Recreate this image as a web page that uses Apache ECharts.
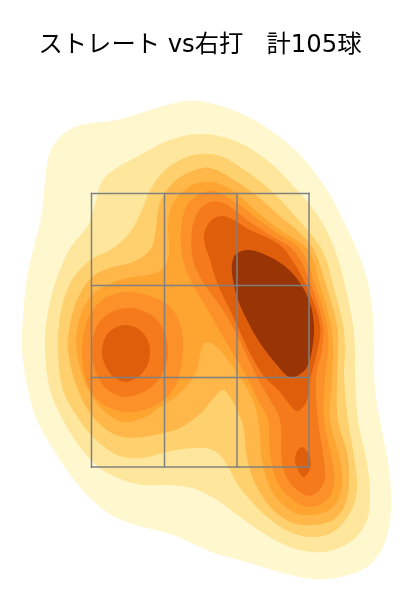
<!DOCTYPE html>
<html>
<head>
<meta charset="utf-8">
<style>html,body{margin:0;padding:0;background:#fff}#c{width:400px;height:600px}</style>
<script src="https://cdn.jsdelivr.net/npm/echarts@6/dist/echarts.min.js"></script>
</head>
<body>
<div id="c"></div>
<script>
const titleText = 'ストレート vs右打   計105球';
const zoneX = [91.5, 164.5, 237, 309];
const zoneY = [193.5, 285.5, 377.5, 467];

const level1 = [[200,101],[233,110],[267,128],[300,155],[327,190],[343,220],[357,250],[368,283],[373,317],[374,350],[374,372],[376,397],[380,420],[388,463],[391,493],[390,520],[383,547],[367,567],[340,577],[313,579],[283,573],[250,563],[220,555],[200,547],[173,535],[143,527],[117,518],[100,507],[80,487],[60,460],[37,420],[27,385],[22,350],[23,317],[27,277],[33,250],[42,213],[45,180],[50,152],[60,137],[71,129],[85,124],[117,120],[140,113],[167,105],[185,101]];
const level2 = [[200,134],[233,140],[267,160],[297,190],[320,219],[335,250],[345,285],[353,325],[355,350],[355,373],[358,420],[367,463],[370,493],[367,520],[353,540],[333,550],[313,552],[290,547],[263,533],[240,517],[217,500],[200,491],[187,487],[167,485],[143,485],[123,480],[100,468],[80,447],[63,420],[50,390],[45,350],[47,317],[54,287],[69,250],[88,225],[96,200],[102,181],[115,169],[140,155],[167,141]];
const level3 = [[180,160],[200,154],[220,156],[240,167],[267,187],[295,216],[322,250],[333,285],[343,325],[345,350],[344,377],[348,420],[355,463],[357,490],[350,513],[333,532],[313,537],[290,532],[267,517],[250,500],[238,485],[228,467],[220,455],[210,449],[200,448],[183,449],[167,452],[143,458],[123,457],[110,451],[93,437],[78,418],[63,390],[58,350],[60,317],[67,290],[77,273],[93,258],[110,250],[123,240],[133,228],[143,207],[150,190],[163,172]];
const level4 = [[190,172],[210,168],[237,182],[257,196],[282,218],[300,233],[314,250],[326,285],[337,325],[338,350],[337,377],[338,420],[347,453],[349,480],[345,505],[333,520],[312,525],[293,523],[273,510],[257,487],[248,463],[243,425],[237,410],[232,400],[223,390],[212,400],[200,414],[180,428],[163,433],[143,437],[123,437],[107,430],[90,413],[76,385],[68,350],[70,325],[77,300],[92,277],[110,268],[133,262],[150,250],[155,235],[160,203],[173,183]];
const level5 = [[203,182],[220,184],[237,194],[257,212],[280,230],[308,250],[320,285],[331,325],[333,350],[332,377],[330,420],[340,460],[342,487],[332,508],[312,515],[293,512],[273,493],[262,460],[259,425],[253,400],[240,377],[233,367],[220,350],[207,342],[201,350],[197,370],[187,386],[175,397],[163,405],[143,418],[123,422],[103,410],[90,393],[80,368],[76,340],[80,317],[90,297],[103,287],[127,278],[153,274],[165,266],[169,250],[168,225],[172,205],[187,188]];
const level6Right = [[197,196],[213,191],[237,203],[250,213],[275,232],[301,250],[315,285],[327,325],[328,350],[325,377],[324,420],[332,460],[334,483],[327,500],[310,507],[293,500],[278,483],[270,453],[268,420],[258,400],[247,377],[237,360],[222,335],[208,310],[193,285],[183,260],[181,230],[186,207]];
const level6Left = [[127,292],[147,295],[170,307],[181,327],[183,350],[178,380],[167,397],[147,409],[127,412],[104,405],[90,390],[84,372],[82,350],[84,333],[90,315],[105,298]];
const level7Right = [[210,202],[223,203],[237,212],[250,222],[270,235],[295,252],[311,285],[323,325],[322,350],[316,377],[318,420],[325,470],[323,485],[313,495],[303,494],[290,483],[282,463],[280,420],[270,400],[257,377],[237,335],[223,310],[205,285],[193,260],[192,230],[198,212]];
const level7Left = [[127,308],[148,313],[162,327],[168,350],[163,372],[150,388],[127,397],[108,390],[97,375],[92,352],[96,328],[108,314]];
const level8Right = [[213,219],[223,216],[237,222],[250,230],[268,238],[285,250],[306,285],[320,325],[317,352],[310,380],[307,400],[298,411],[290,405],[280,392],[263,375],[250,353],[230,310],[218,285],[210,260],[204,240],[206,228]];
const level8Left = [[126,325],[140,330],[148,341],[150,353],[147,366],[139,376],[126,382],[114,377],[106,367],[102,353],[105,338],[113,329]];
const level8Low = [[302,447],[308,453],[311,463],[308,473],[303,477],[298,470],[295,460],[297,452]];
const level9 = [[250,250],[270,257],[287,268],[300,283],[310,303],[314,327],[312,350],[307,367],[297,376],[289,377],[277,365],[260,343],[247,320],[238,300],[233,280],[232,265],[236,254]];

const bands = [
  [level1,'#fff8cf'],[level2,'#fee79c'],[level3,'#fed06e'],[level4,'#feb748'],[level5,'#fea431'],
  [level6Right,'#fc9029'],[level6Left,'#fc9029'],[level7Right,'#f47a1c'],[level7Left,'#f47a1c'],
  [level8Right,'#de5e0b'],[level8Left,'#de5e0b'],[level8Low,'#de5e0b'],[level9,'#993404']
];

const chart = echarts.init(document.getElementById('c'), null, {renderer:'canvas'});
chart.setOption({
  animation:false,
  backgroundColor:'#fff',
  title:{text:titleText,left:'center',top:29,textStyle:{fontFamily:'"DejaVu Sans","Noto Sans CJK JP"',fontSize:24.3,fontWeight:'normal',color:'#000'}},
  grid:{left:0,right:0,top:0,bottom:0},
  xAxis:{type:'value',min:0,max:400,show:false},
  yAxis:{type:'value',min:0,max:600,inverse:true,show:false},
  series:[
    {type:'custom',coordinateSystem:'cartesian2d',silent:true,clip:false,
     data:bands.map((b,i)=>[i]),
     renderItem:(p,api)=>{
       const b=bands[p.dataIndex];
       return {type:'polygon',shape:{points:b[0].map(q=>api.coord(q)),smooth:0.35},style:{fill:b[1],stroke:null}};
     }},
    {type:'custom',coordinateSystem:'cartesian2d',silent:true,clip:false,
     data:[[0]],
     renderItem:(p,api)=>{
       const line=(a,b)=>({type:'line',shape:{x1:api.coord(a)[0],y1:api.coord(a)[1],x2:api.coord(b)[0],y2:api.coord(b)[1]},style:{stroke:'#808080',lineWidth:1.5,lineCap:'square'}});
       const x0=zoneX[0],x1=zoneX[zoneX.length-1],y0=zoneY[0],y1=zoneY[zoneY.length-1];
       return {type:'group',children:[
         ...zoneX.map(x=>line([x,y0],[x,y1])),
         ...zoneY.map(y=>line([x0,y],[x1,y]))
       ]};
     }}
  ]
});
</script>
</body>
</html>
